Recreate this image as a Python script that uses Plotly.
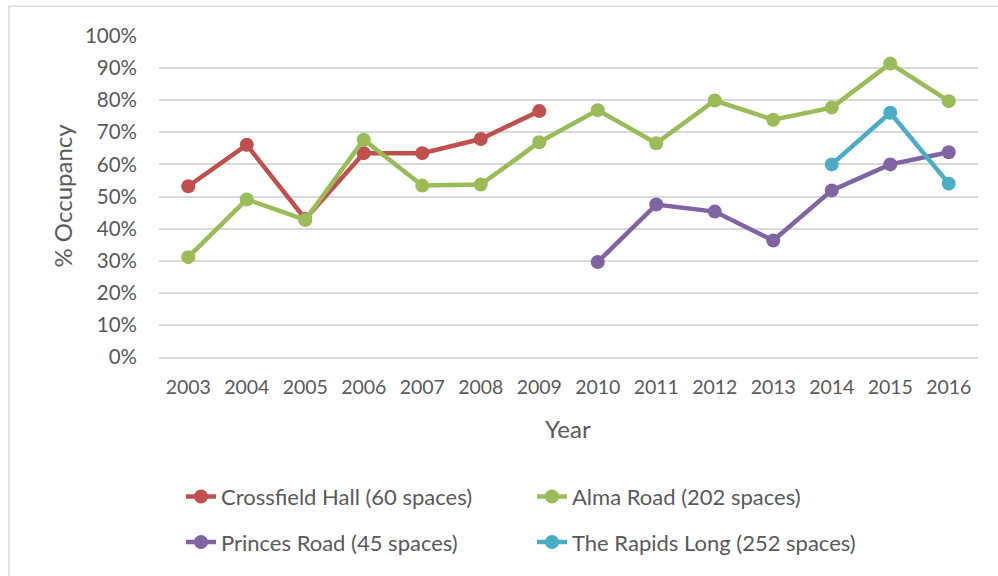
import plotly.graph_objects as go

# Car park occupancy by year
years = [str(y) for y in range(2003, 2017)]
crossfield_hall = [0.532, 0.661, 0.430, 0.635, 0.635, 0.679, 0.766,
                   None, None, None, None, None, None, None]
alma_road = [0.311, 0.491, 0.427, 0.677, 0.534, 0.537, 0.669,
             0.769, 0.666, 0.799, 0.739, 0.777, 0.914, 0.797]
princes_road = [None, None, None, None, None, None, None,
                0.296, 0.475, 0.453, 0.363, 0.519, 0.600, 0.638]
rapids_long = [None, None, None, None, None, None, None,
               None, None, None, None, 0.600, 0.761, 0.540]

series = [
    ("Crossfield Hall (60 spaces)", crossfield_hall, "#C0504D", "legend"),
    ("Alma Road (202 spaces)", alma_road, "#9BBB59", "legend"),
    ("Princes Road (45 spaces)", princes_road, "#8064A2", "legend2"),
    ("The Rapids Long (252 spaces)", rapids_long, "#4BACC6", "legend2"),
]

FONT = "Lato, 'Open Sans', sans-serif"
TEXT = "#595959"
GRID = "#D9D9D9"

W, H = 998, 576
L, R, T, B = 159, 20, 36, 216

fig = go.Figure()
for name, vals, color, leg in series:
    fig.add_trace(go.Scatter(
        x=years, y=vals, name=name, mode="lines+markers",
        line=dict(color=color, width=4.5),
        marker=dict(color=color, size=14),
        connectgaps=False, legend=leg, cliponaxis=False,
    ))

pw = W - L - R
ph = H - T - B


def px(x):
    return (x - L) / pw


def py(y):
    return (H - B - y) / ph


legend_style = dict(
    orientation="h", xanchor="left", yanchor="middle",
    font=dict(family=FONT, size=22, color=TEXT),
    entrywidth=306, bgcolor="rgba(0,0,0,0)", itemclick=False,
)

fig.update_layout(
    width=W, height=H,
    margin=dict(l=L, r=R, t=T, b=B),
    paper_bgcolor="white", plot_bgcolor="white",
    font=dict(family=FONT, color=TEXT),
    showlegend=True,
    legend=dict(x=px(181), y=py(501), **legend_style),
    legend2=dict(x=px(181), y=py(547), **legend_style),
    xaxis=dict(
        type="category", range=[-0.5, 13.5],
        showgrid=False, showline=True, linecolor=GRID, linewidth=1.5,
        ticks="", tickfont=dict(family=FONT, size=19.5, color=TEXT),
        ticklabelstandoff=12, fixedrange=True,
    ),
    yaxis=dict(
        range=[0, 1], dtick=0.1, tickformat=".0%",
        showgrid=True, gridcolor=GRID, gridwidth=1.5,
        zeroline=False, showline=False, ticks="",
        tickfont=dict(family=FONT, size=20.5, color=TEXT),
        ticklabelstandoff=21, fixedrange=True,
    ),
    shapes=[dict(
        type="rect", xref="paper", yref="paper",
        x0=px(9), x1=px(W + 10), y0=py(H + 10), y1=py(6),
        line=dict(color=GRID, width=1.5), fillcolor="rgba(0,0,0,0)",
        layer="below",
    )],
    annotations=[
        dict(text="Year", xref="paper", yref="paper", x=px(568), y=py(432),
             xanchor="center", yanchor="middle", showarrow=False,
             font=dict(family=FONT, size=24, color=TEXT)),
        dict(text="% Occupancy", xref="paper", yref="paper", x=px(63),
             y=py(197), xanchor="center", yanchor="middle", showarrow=False,
             textangle=-90, font=dict(family=FONT, size=24, color=TEXT)),
    ],
)

fig.write_html("out.html")
